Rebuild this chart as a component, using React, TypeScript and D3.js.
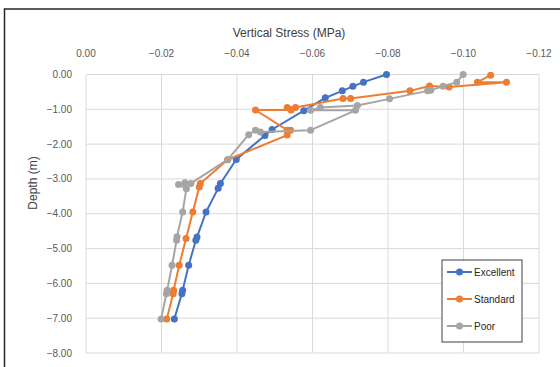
import { useEffect, useRef } from 'react'
import * as d3 from 'd3'

// axis ticks
const xTicks = [0, -0.02, -0.04, -0.06, -0.08, -0.1, -0.12]
const yTicks = [0, -1, -2, -3, -4, -5, -6, -7, -8]

// Excellent
const exDepth = [0, -0.22, -0.34, -0.47, -0.67, -1.04, -1.58, -1.75, -2.44, -3.13, -3.27, -3.95, -4.67, -4.76, -5.48, -6.2, -6.3, -7.02]
const exStress = [-0.0796, -0.0735, -0.0707, -0.0679, -0.0634, -0.0577, -0.0493, -0.0474, -0.0398, -0.0356, -0.035, -0.0318, -0.0294, -0.0291, -0.0272, -0.0256, -0.0254, -0.0234]

// Standard
const stDepth = [-0.02, -0.22, -0.22, -0.36, -0.33, -0.47, -0.69, -0.69, -0.95, -0.95, -1.02, -1.02, -1.6, -1.6, -1.74, -2.45, -3.13, -3.23, -3.95, -4.71, -5.48, -6.2, -6.3, -7.02]
const stStress = [-0.1072, -0.1037, -0.1114, -0.0962, -0.091, -0.0858, -0.0701, -0.0681, -0.0555, -0.0533, -0.0543, -0.0449, -0.0533, -0.0542, -0.0533, -0.0375, -0.0303, -0.03, -0.0283, -0.0265, -0.0247, -0.0232, -0.0231, -0.0214]

// Poor
const poDepth = [0, -0.22, -0.34, -0.45, -0.47, -0.7, -0.89, -0.95, -1.03, -1.03, -1.6, -1.65, -1.6, -1.73, -2.44, -3.13, -3.11, -3.16, -3.28, -3.95, -4.66, -4.76, -5.48, -6.2, -6.3, -7.02]
const poStress = [-0.0999, -0.0982, -0.0946, -0.0913, -0.0905, -0.0804, -0.0719, -0.0621, -0.0595, -0.0714, -0.0595, -0.0462, -0.0449, -0.0431, -0.0376, -0.0278, -0.0262, -0.0245, -0.0266, -0.0256, -0.0241, -0.024, -0.0228, -0.0215, -0.0213, -0.0199]

const seriesNames = ['Excellent', 'Standard', 'Poor']
const colors = ['#4472C4', '#ED7D31', '#A5A5A5']

export default function App() {
  const svgRef = useRef<SVGSVGElement>(null)

  useEffect(() => {
    if (!svgRef.current) return
    const svg = d3.select(svgRef.current)
    svg.selectAll('*').remove()

    const x = d3.scaleLinear().domain([0, -0.12]).range([86, 539])
    const y = d3.scaleLinear().domain([0, -8]).range([74.5, 353])

    // chart frame (only top/left visible)
    svg.append('rect').attr('x', 4.5).attr('y', 9).attr('width', 600).attr('height', 400)
      .attr('fill', '#fff').attr('stroke', '#262626').attr('stroke-width', 1.5)

    // grid
    svg.append('g').selectAll('line').data(yTicks).join('line')
      .attr('x1', 86).attr('x2', 539)
      .attr('y1', d => y(d)).attr('y2', d => y(d))
      .attr('stroke', '#d9d9d9').attr('stroke-width', 1)
    svg.append('g').selectAll('line').data(xTicks).join('line')
      .attr('x1', d => x(d)).attr('x2', d => x(d))
      .attr('y1', 74.5).attr('y2', 353)
      .attr('stroke', '#d9d9d9').attr('stroke-width', 1)

    // tick labels
    const fmt = d3.format('.2f')
    svg.append('g').selectAll('text').data(xTicks).join('text')
      .attr('x', d => x(d)).attr('y', 57)
      .attr('text-anchor', 'middle').attr('font-size', 10)
      .attr('font-family', 'Liberation Sans, Arial, sans-serif').attr('fill', '#595959')
      .text(d => fmt(d))
    svg.append('g').selectAll('text').data(yTicks).join('text')
      .attr('x', 72).attr('y', d => y(d) + 3.5)
      .attr('text-anchor', 'end').attr('font-size', 10)
      .attr('font-family', 'Liberation Sans, Arial, sans-serif').attr('fill', '#595959')
      .text(d => fmt(d))

    // axis titles
    svg.append('text').attr('x', 289).attr('y', 37)
      .attr('text-anchor', 'middle').attr('font-size', 12)
      .attr('font-family', 'Liberation Sans, Arial, sans-serif').attr('fill', '#404040')
      .text('Vertical Stress (MPa)')
    svg.append('text').attr('transform', 'translate(37,183) rotate(-90)')
      .attr('text-anchor', 'middle').attr('font-size', 12)
      .attr('font-family', 'Liberation Sans, Arial, sans-serif').attr('fill', '#404040')
      .text('Depth (m)')

    // series
    const series = [
      { depth: exDepth, stress: exStress },
      { depth: stDepth, stress: stStress },
      { depth: poDepth, stress: poStress },
    ]
    const line = d3.line<[number, number]>().x(d => x(d[0])).y(d => y(d[1]))
    series.forEach((s, i) => {
      const pts: [number, number][] = s.stress.map((v, j) => [v, s.depth[j]])
      const g = svg.append('g')
      g.append('path').attr('d', line(pts)).attr('fill', 'none')
        .attr('stroke', colors[i]).attr('stroke-width', 2).attr('stroke-linejoin', 'round')
      g.selectAll('circle').data(pts).join('circle')
        .attr('cx', d => x(d[0])).attr('cy', d => y(d[1])).attr('r', 3.5)
        .attr('fill', colors[i])
    })

    // legend
    const lg = svg.append('g')
    lg.append('rect').attr('x', 442).attr('y', 260).attr('width', 80).attr('height', 82)
      .attr('fill', '#fff').attr('stroke', '#404040').attr('stroke-width', 1)
    seriesNames.forEach((name, i) => {
      const ly = 272 + i * 27
      lg.append('line').attr('x1', 447).attr('x2', 472).attr('y1', ly).attr('y2', ly)
        .attr('stroke', colors[i]).attr('stroke-width', 2)
      lg.append('circle').attr('cx', 459.5).attr('cy', ly).attr('r', 3.5).attr('fill', colors[i])
      lg.append('text').attr('x', 474).attr('y', ly + 3.5)
        .attr('font-size', 10).attr('font-family', 'Liberation Sans, Arial, sans-serif')
        .attr('fill', '#262626').text(name)
    })
  }, [])

  return (
    <svg ref={svgRef} width={560} height={367}
      style={{ position: 'absolute', left: 0, top: 0, display: 'block', background: '#fff' }} />
  )
}
